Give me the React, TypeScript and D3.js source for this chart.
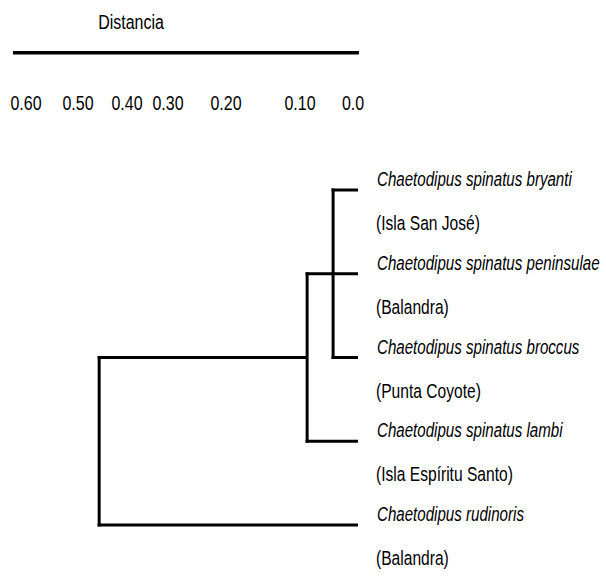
import React from "react";
import * as d3 from "d3";

// ---- data ----
const LEAF_NAMES = [
  "Chaetodipus spinatus bryanti",
  "Chaetodipus spinatus peninsulae",
  "Chaetodipus spinatus broccus",
  "Chaetodipus spinatus lambi",
  "Chaetodipus rudinoris",
];
const LOCALITIES = [
  "(Isla San José)",
  "(Balandra)",
  "(Punta Coyote)",
  "(Isla Espíritu Santo)",
  "(Balandra)",
];
// merge distances of internal nodes
const ROOT_DIST = 0.467;
const NODE2_DIST = 0.096;
const NODE3_DIST = 0.047;
const TICK_VALUES = [0.6, 0.5, 0.4, 0.3, 0.2, 0.1, 0.0];
const TICK_LABELS = ["0.60", "0.50", "0.40", "0.30", "0.20", "0.10", "0.0"];
const AXIS_TITLE = "Distancia";

type TNode = { name?: string; loc?: string; dist: number; children?: TNode[] };
const leaf = (i: number): TNode => ({ name: LEAF_NAMES[i], loc: LOCALITIES[i], dist: 0 });
const TREE: TNode = {
  dist: ROOT_DIST,
  children: [
    {
      dist: NODE2_DIST,
      children: [{ dist: NODE3_DIST, children: [leaf(0), leaf(1), leaf(2)] }, leaf(3)],
    },
    leaf(4),
  ],
};

// ---- layout ----
const W = 606;
const H = 588;
const FONT = "'Liberation Sans', Arial, sans-serif";
const FS = 19.5;
// the original axis labelling is uneven; piecewise-linear scale through its tick stops
const TICK_PX = [31, 83, 132, 173, 231, 305, 358];

function T(props: {
  x: number;
  y: number;
  sx: number;
  anchor?: string;
  italic?: boolean;
  children: React.ReactNode;
}) {
  return (
    <text
      transform={`translate(${props.x},${props.y}) scale(${props.sx},1)`}
      fontSize={FS}
      textAnchor={props.anchor || "start"}
      fontStyle={props.italic ? "italic" : "normal"}
      fill="#000"
    >
      {props.children}
    </text>
  );
}

export default function App() {
  const x = d3.scaleLinear().domain(TICK_VALUES).range(TICK_PX);
  const y = d3.scalePoint<number>().domain(d3.range(LEAF_NAMES.length)).range([190, 525]);

  const root = d3.hierarchy<TNode>(TREE);
  const leaves = root.leaves();
  const leafY = new Map<any, number>();
  leaves.forEach((l, i) => leafY.set(l, y(i)!));
  const posY = (n: d3.HierarchyNode<TNode>): number => {
    if (!n.children) return leafY.get(n)!;
    const ys = n.children.map(posY);
    return (ys[0] + ys[ys.length - 1]) / 2;
  };

  const segs: { x1: number; y1: number; x2: number; y2: number }[] = [];
  root.each((n) => {
    if (!n.children) return;
    const ys = n.children.map(posY);
    const xn = x(n.data.dist);
    segs.push({ x1: xn, y1: d3.min(ys)! - 1.5, x2: xn, y2: d3.max(ys)! + 1.5 });
    n.children.forEach((c, i) => {
      segs.push({ x1: xn - 1.5, y1: ys[i], x2: x(c.data.dist), y2: ys[i] });
    });
  });

  return (
    <svg
      width={W}
      height={H}
      style={{ position: "absolute", left: 0, top: 0, background: "#fff" }}
      fontFamily={FONT}
    >
      <rect width={W} height={H} fill="#fff" />
      <T x={131} y={29} sx={0.82} anchor="middle">
        {AXIS_TITLE}
      </T>
      <line x1={13} x2={x(0) + 1} y1={52.7} y2={52.7} stroke="#000" strokeWidth={3.4} />
      {TICK_VALUES.map((v, i) => (
        <T key={i} x={x(v) - 5} y={110} sx={0.82} anchor="middle">
          {TICK_LABELS[i]}
        </T>
      ))}
      {segs.map((s, i) => (
        <line key={i} x1={s.x1} y1={s.y1} x2={s.x2} y2={s.y2} stroke="#000" strokeWidth={3} />
      ))}
      {leaves.map((l, i) => (
        <g key={i}>
          <T x={377} y={y(i)! - 4} sx={0.775} italic>
            {l.data.name}
          </T>
          <T x={376} y={y(i)! + 40} sx={0.8}>
            {l.data.loc}
          </T>
        </g>
      ))}
    </svg>
  );
}
